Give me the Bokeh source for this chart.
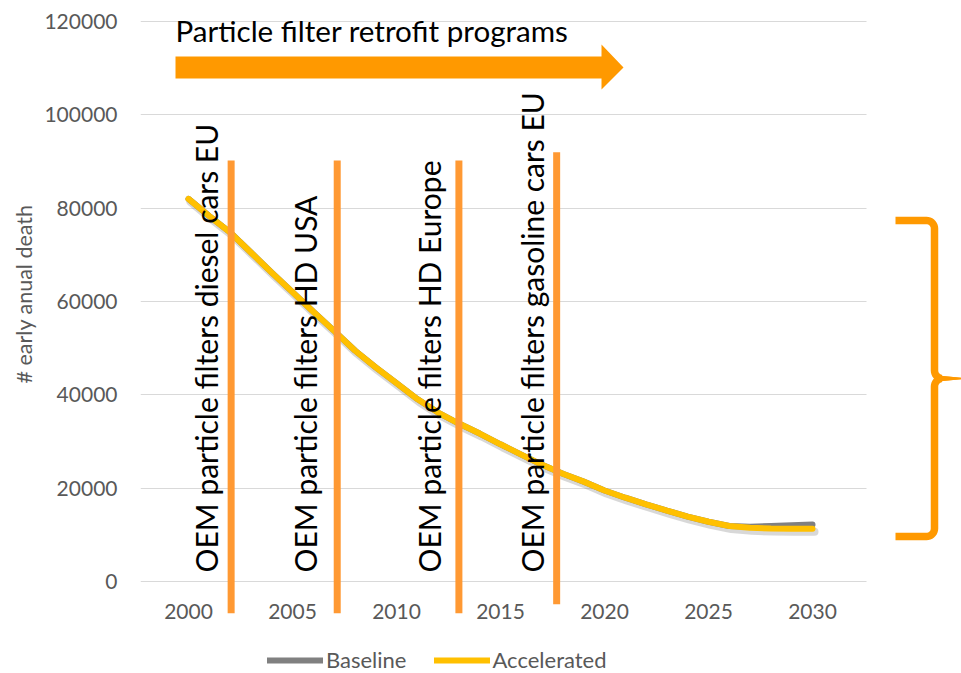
import math
from bokeh.plotting import figure
from bokeh.models import (FixedTicker, BasicTickFormatter, Legend, LegendItem,
                          PolyAnnotation, BoxAnnotation, Label, Title,
                          ColumnDataSource, Range1d)
from bokeh.embed import file_html
from bokeh.resources import INLINE
from bokeh.core.properties import value

# ---------------- data ----------------
years = list(range(2000, 2031))
accelerated = [82000, 78300, 74800, 70500, 66200, 62000, 57800, 53700, 49500, 45900,
               42500, 39100, 36200, 33850, 31700, 29400, 27200, 25000, 23100, 21400,
               19500, 17950, 16550, 15200, 13900, 12800, 11900, 11500, 11350, 11300, 11300]
baseline = [82000, 78300, 74800, 70500, 66200, 62000, 57800, 53700, 49500, 45900,
            42500, 39100, 36200, 33850, 31700, 29400, 27200, 25000, 23100, 21400,
            19500, 17950, 16550, 15200, 13900, 12800, 11900, 11750, 11900, 12050, 12200]
x_ticks = [2000, 2005, 2010, 2015, 2020, 2025, 2030]
y_ticks = [0, 20000, 40000, 60000, 80000, 100000, 120000]

event_labels = ["OEM particle filters diesel cars EU",
                "OEM particle filters HD USA",
                "OEM particle filters HD Europe",
                "OEM particle filters gasoline cars EU"]
event_years = [2002.05, 2007.15, 2013.0, 2017.7]
event_top = [90200, 90200, 90200, 92000]
event_bottom = [-6800, -6800, -6800, -4900]

title_text = "Particle filter retrofit programs"
y_label = "# early anual death"
series_names = ["Baseline", "Accelerated"]

# ---------------- styles / layout ----------------
FONT = "Lato"
GREY_TXT = "#595959"
ORANGE = "#FF9900"
LINE_ORANGE = "#FF9933"
W, H = 961, 673
ML = 140                      # frame spans the rest of the figure
PX_PER_YEAR = 20.8
VAL_PER_PX = 120000 / 560.0
X_ORIGIN_PX, Y_ORIGIN_PX = 188, 581      # pixel of (2000, 0)
X0 = 2000 - (X_ORIGIN_PX - ML) / PX_PER_YEAR
X1 = 2000 + (W - X_ORIGIN_PX) / PX_PER_YEAR
Y1 = Y_ORIGIN_PX * VAL_PER_PX
Y0 = (Y_ORIGIN_PX - H) * VAL_PER_PX

p = figure(width=W, height=H, x_range=Range1d(X0, X1), y_range=Range1d(Y0, Y1),
           output_backend="svg", toolbar_location=None,
           min_border_left=ML, min_border_right=0, min_border_top=0, min_border_bottom=0)
p.outline_line_color = None
p.background_fill_color = "white"
p.border_fill_color = "white"

# ranges shifted by a few pixels, used to draw a drop shadow under the curve
SH_DX, SH_DY = 2, 3
p.extra_x_ranges = {"shadow_x": Range1d(X0 - SH_DX / PX_PER_YEAR, X1 - SH_DX / PX_PER_YEAR)}
p.extra_y_ranges = {"shadow_y": Range1d(Y0 + SH_DY * VAL_PER_PX, Y1 + SH_DY * VAL_PER_PX)}

# pixel -> data, used only for the decorative shapes
def fx(px):
    return X0 + (px - ML) / PX_PER_YEAR

def fy(py):
    return (Y_ORIGIN_PX - py) * VAL_PER_PX

# axes
p.xaxis.ticker = FixedTicker(ticks=x_ticks)
p.yaxis.ticker = FixedTicker(ticks=y_ticks)
p.yaxis.formatter = BasicTickFormatter(use_scientific=False)
for ax in (p.xaxis, p.yaxis):
    ax.axis_line_color = None
    ax.major_tick_line_color = None
    ax.minor_tick_line_color = None
    ax.major_tick_out = 0
    ax.major_tick_in = 0
    ax.major_label_text_font = FONT
    ax.major_label_text_font_size = "21px"
    ax.major_label_text_color = GREY_TXT
p.xaxis.major_label_standoff = -70
p.yaxis.major_label_standoff = 23
p.xgrid.grid_line_color = None
p.ygrid.grid_line_color = "#D9D9D9"
p.ygrid.grid_line_width = 1

# y axis title (side title so it can sit where the reference has it)
p.add_layout(Title(text=y_label, align="left", offset=290, text_font=FONT,
                   text_font_size="21.5px", text_font_style="normal",
                   text_color=GREY_TXT, standoff=10), "left")

# grid only spans the plot area: mask the right margin region
p.add_layout(BoxAnnotation(left=fx(866), right=X1, bottom=Y0, top=Y1,
                           fill_color="white", fill_alpha=1, line_color=None,
                           level="underlay"))

# series
src = ColumnDataSource(dict(year=years, base=baseline, acc=accelerated))
p.line("year", "acc", source=src, x_range_name="shadow_x", y_range_name="shadow_y",
       line_color="#7F7F7F", line_alpha=0.3, line_width=8, line_cap="round")
r_base = p.line("year", "base", source=src, line_color="#808080", line_width=6, line_cap="round")
r_acc = p.line("year", "acc", source=src, line_color="#FFC000", line_width=6, line_cap="round")

# event lines and labels
ev = ColumnDataSource(dict(x=event_years, top=event_top, bottom=event_bottom,
                           text=event_labels, dx=[-25, -32, -30, -25]))
p.segment(x0="x", y0="bottom", x1="x", y1="top", source=ev,
          line_color=LINE_ORANGE, line_width=7)
p.text(x="x", y=0, text="text", source=ev, angle=math.pi / 2,
       x_offset="dx", y_offset=-9,
       text_align="left", text_baseline="alphabetic",
       text_font=value(FONT), text_font_size="30px", text_color="black")

# title text and arrow
p.add_layout(Label(x=fx(175), y=fy(30), text=title_text, text_font=FONT,
                   text_font_size="29.6px", text_color="black",
                   text_align="left", text_baseline="alphabetic"))
arrow_px = [(175, 56), (601, 56), (601, 44), (623, 67), (601, 89), (601, 78), (175, 78)]
p.add_layout(PolyAnnotation(xs=[fx(a) for a, b in arrow_px], ys=[fy(b) for a, b in arrow_px],
                            fill_color=ORANGE, fill_alpha=1, line_color=None))

# brace on the right
def brace_half(sign):
    tip_y = 378.0
    pts = [(895.0, 220.0), (926.0, 220.0)]
    for k in range(1, 10):
        t = math.radians(90 - 10 * k)
        pts.append((926 + 8 * math.cos(t), 228 - 8 * math.sin(t)))
    pts.append((934.0, 370.0))
    for k in range(1, 10):
        t = math.radians(180 + 10 * k)
        pts.append((942 + 8 * math.cos(t), 370 - 8 * math.sin(t)))
    pts.append((962.0, 378.0))
    n = len(pts)
    widths = [7.5] * n
    widths[-1] = 1.0
    widths[-2] = 5.0
    left, right = [], []
    for i in range(n):
        a = pts[max(i - 1, 0)]
        b = pts[min(i + 1, n - 1)]
        dx, dy = b[0] - a[0], b[1] - a[1]
        L = math.hypot(dx, dy)
        nx, ny = -dy / L, dx / L
        w = widths[i] / 2
        left.append((pts[i][0] + nx * w, pts[i][1] + ny * w))
        right.append((pts[i][0] - nx * w, pts[i][1] - ny * w))
    poly = left + right[::-1]
    if sign < 0:
        poly = [(x, 2 * tip_y - y) for x, y in poly]
    return poly

for s in (1, -1):
    poly = brace_half(s)
    p.add_layout(PolyAnnotation(xs=[fx(a) for a, b in poly], ys=[fy(b) for a, b in poly],
                                fill_color=ORANGE, fill_alpha=1, line_color=None))

# legend
legend = Legend(items=[LegendItem(label=series_names[0], renderers=[r_base]),
                       LegendItem(label=series_names[1], renderers=[r_acc])],
                orientation="horizontal", location=(127, 0))
legend.glyph_width = 56
legend.glyph_height = 14
legend.label_height = 14
legend.label_standoff = 3
legend.spacing = 27
legend.padding = 0
legend.margin = 0
legend.border_line_color = None
legend.background_fill_alpha = 0
legend.label_text_font = FONT
legend.label_text_font_size = "22px"
legend.label_text_color = GREY_TXT
p.add_layout(legend, "center")

open("out.html", "w").write(file_html(p, INLINE))
